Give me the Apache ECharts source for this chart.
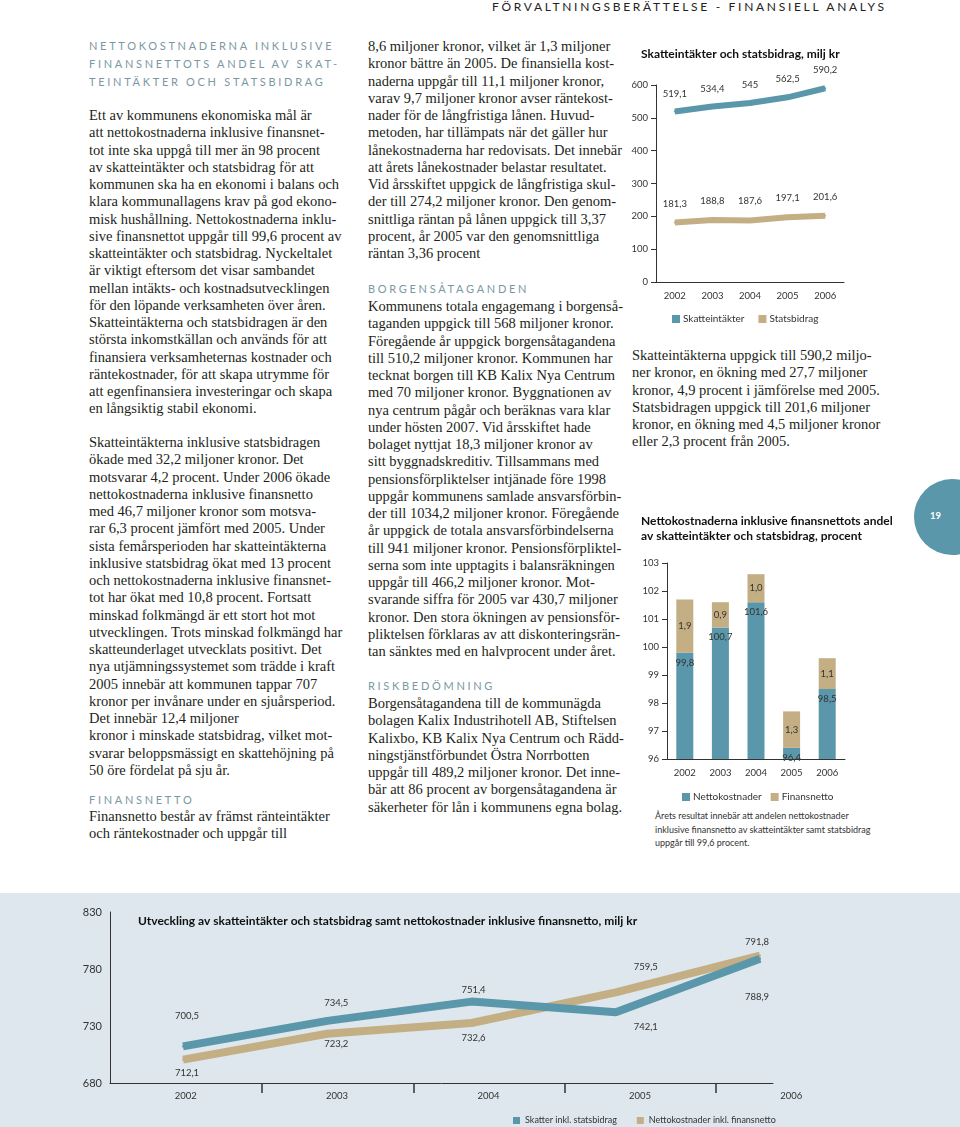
<!DOCTYPE html>
<html><head><meta charset="utf-8">
<script src="https://cdn.jsdelivr.net/npm/echarts@6/dist/echarts.min.js"></script>
<style>
html,body{margin:0;padding:0;background:#fff;}
body{width:960px;height:1127px;position:relative;overflow:hidden;}
.t{position:absolute;font-family:"Liberation Serif",serif;font-size:14.5px;line-height:17.25px;color:#231f20;white-space:pre;}
.h{position:absolute;font-family:Lato,sans-serif;font-size:11px;letter-spacing:2.7px;color:#7b98a2;line-height:18px;white-space:pre;}
.hdr{position:absolute;left:492px;top:0px;font-family:Lato,sans-serif;font-size:12px;letter-spacing:2.7px;color:#222;line-height:14px;white-space:pre;}
.note{position:absolute;left:655px;top:809px;font-family:Lato,sans-serif;font-size:9px;line-height:13.5px;color:#333;white-space:pre;}
.chart{position:absolute;}
#circle{position:absolute;left:914px;top:479px;width:76px;height:76px;border-radius:50%;background:#5a97aa;}
#pnum{position:absolute;left:930px;top:510px;font-family:Lato,sans-serif;font-weight:bold;font-size:9.5px;color:#fff;}
</style></head>
<body>
<div class="hdr">FÖRVALTNINGSBERÄTTELSE - FINANSIELL ANALYS</div>

<div class="h" style="left:89px;top:37px;">NETTOKOSTNADERNA INKLUSIVE
FINANSNETTOTS ANDEL AV SKAT-
TEINTÄKTER OCH STATSBIDRAG</div>

<div class="t" style="left:89px;top:107px;">Ett av kommunens ekonomiska mål är
att nettokostnaderna inklusive finansnet-
tot inte ska uppgå till mer än 98 procent
av skatteintäkter och statsbidrag för att
kommunen ska ha en ekonomi i balans och
klara kommunallagens krav på god ekono-
misk hushållning. Nettokostnaderna inklu-
sive finansnettot uppgår till 99,6 procent av
skatteintäkter och statsbidrag. Nyckeltalet
är viktigt eftersom det visar sambandet
mellan intäkts- och kostnadsutvecklingen
för den löpande verksamheten över åren.
Skatteintäkterna och statsbidragen är den
största inkomstkällan och används för att
finansiera verksamheternas kostnader och
räntekostnader, för att skapa utrymme för
att egenfinansiera investeringar och skapa
en långsiktig stabil ekonomi.</div>

<div class="t" style="left:89px;top:434px;">Skatteintäkterna inklusive statsbidragen
ökade med 32,2 miljoner kronor. Det
motsvarar 4,2 procent. Under 2006 ökade
nettokostnaderna inklusive finansnetto
med 46,7 miljoner kronor som motsva-
rar 6,3 procent jämfört med 2005. Under
sista femårsperioden har skatteintäkterna
inklusive statsbidrag ökat med 13 procent
och nettokostnaderna inklusive finansnet-
tot har ökat med 10,8 procent. Fortsatt
minskad folkmängd är ett stort hot mot
utvecklingen. Trots minskad folkmängd har
skatteunderlaget utvecklats positivt. Det
nya utjämningssystemet som trädde i kraft
2005 innebär att kommunen tappar 707
kronor per invånare under en sjuårsperiod.
Det innebär 12,4 miljoner
kronor i minskade statsbidrag, vilket mot-
svarar beloppsmässigt en skattehöjning på
50 öre fördelat på sju år.</div>

<div class="h" style="left:89px;top:791px;">FINANSNETTO</div>
<div class="t" style="left:89px;top:808px;">Finansnetto består av främst ränteintäkter
och räntekostnader och uppgår till</div>

<div class="t" style="left:368px;top:38px;">8,6 miljoner kronor, vilket är 1,3 miljoner
kronor bättre än 2005. De finansiella kost-
naderna uppgår till 11,1 miljoner kronor,
varav 9,7 miljoner kronor avser räntekost-
nader för de långfristiga lånen. Huvud-
metoden, har tillämpats när det gäller hur
lånekostnaderna har redovisats. Det innebär
att årets lånekostnader belastar resultatet.
Vid årsskiftet uppgick de långfristiga skul-
der till 274,2 miljoner kronor. Den genom-
snittliga räntan på lånen uppgick till 3,37
procent, år 2005 var den genomsnittliga
räntan 3,36 procent</div>

<div class="h" style="left:368px;top:280px;">BORGENSÅTAGANDEN</div>
<div class="t" style="left:368px;top:298px;">Kommunens totala engagemang i borgenså-
taganden uppgick till 568 miljoner kronor.
Föregående år uppgick borgensåtagandena
till 510,2 miljoner kronor. Kommunen har
tecknat borgen till KB Kalix Nya Centrum
med 70 miljoner kronor. Byggnationen av
nya centrum pågår och beräknas vara klar
under hösten 2007. Vid årsskiftet hade
bolaget nyttjat 18,3 miljoner kronor av
sitt byggnadskreditiv. Tillsammans med
pensionsförpliktelser intjänade före 1998
uppgår kommunens samlade ansvarsförbin-
der till 1034,2 miljoner kronor. Föregående
år uppgick de totala ansvarsförbindelserna
till 941 miljoner kronor. Pensionsförpliktel-
serna som inte upptagits i balansräkningen
uppgår till 466,2 miljoner kronor. Mot-
svarande siffra för 2005 var 430,7 miljoner
kronor. Den stora ökningen av pensionsför-
pliktelsen förklaras av att diskonteringsrän-
tan sänktes med en halvprocent under året.</div>

<div class="h" style="left:368px;top:677px;">RISKBEDÖMNING</div>
<div class="t" style="left:368px;top:695px;">Borgensåtagandena till de kommunägda
bolagen Kalix Industrihotell AB, Stiftelsen
Kalixbo, KB Kalix Nya Centrum och Rädd-
ningstjänstförbundet Östra Norrbotten
uppgår till 489,2 miljoner kronor. Det inne-
bär att 86 procent av borgensåtagandena är
säkerheter för lån i kommunens egna bolag.</div>

<div class="t" style="left:632px;top:347px;">Skatteintäkterna uppgick till 590,2 miljo-
ner kronor, en ökning med 27,7 miljoner
kronor, 4,9 procent i jämförelse med 2005.
Statsbidragen uppgick till 201,6 miljoner
kronor, en ökning med 4,5 miljoner kronor
eller 2,3 procent från 2005.</div>

<div class="note">Årets resultat innebär att andelen nettokostnader
inklusive finansnetto av skatteintäkter samt statsbidrag
uppgår till 99,6 procent.</div>

<div id="circle"></div>
<div id="pnum">19</div>

<div id="c1" class="chart" style="left:620px;top:30px;width:300px;height:300px;"></div>
<div id="c2" class="chart" style="left:620px;top:500px;width:300px;height:310px;"></div>
<div id="c3" class="chart" style="left:0px;top:893px;width:960px;height:234px;background:#dde7ed;"></div>

<script>
// ---------- data ----------
const years = ['2002', '2003', '2004', '2005', '2006'];

// Chart 1: Skatteintäkter och statsbidrag, milj kr
const skatteintakter = [519.1, 534.4, 545, 562.5, 590.2];
const statsbidrag = [181.3, 188.8, 187.6, 197.1, 201.6];
const axis1Range = [0, 600, 100];

// Chart 2: Nettokostnadernas andel, procent
const nettokostnaderPct = [99.8, 100.7, 101.6, 96.4, 98.5];
const finansnettoPct = [1.9, 0.9, 1.0, 1.3, 1.1];
const totalPct = [101.7, 101.6, 102.6, 97.7, 99.6];
const axis2Range = [96, 103, 1];

// Chart 3: Utveckling, milj kr
const skatterInklStatsbidrag = [700.5, 723.2, 732.6, 759.5, 791.8];
const nettoInklFinansnetto = [712.1, 734.5, 751.4, 742.1, 788.9];
const axis3Range = [680, 830, 50];

// ---------- styles ----------
const TEAL = '#5a97aa';
const TAN = '#c4ae84';
const INK = '#333';
const SANS = 'Lato';
const fmtComma = v => String(v).replace('.', ',');
const fmt1 = v => v.toFixed(1).replace('.', ',');

// Chart 1
const c1 = echarts.init(document.getElementById('c1'));
c1.setOption({
  animation: false,
  title: { text: 'Skatteintäkter och statsbidrag, milj kr', left: 16, top: 13,
    textStyle: { fontFamily: SANS, fontWeight: 'bold', fontSize: 12, color: '#111' } },
  grid: { left: 36, top: 55, width: 188, height: 197 },
  legend: { left: 47, top: 279, itemWidth: 8, itemHeight: 8, itemGap: 14, icon: 'rect',
    textStyle: { fontFamily: SANS, fontSize: 10, color: INK, padding: [0, 0, 0, -2] },
    data: ['Skatteintäkter', 'Statsbidrag'] },
  xAxis: { type: 'category', data: years, boundaryGap: true,
    axisLine: { lineStyle: { color: INK } },
    axisTick: { length: 5, lineStyle: { color: INK } },
    axisLabel: { fontFamily: SANS, fontSize: 9.5, color: INK, margin: 9 } },
  yAxis: { type: 'value', min: axis1Range[0], max: axis1Range[1], interval: axis1Range[2],
    axisLine: { show: true, lineStyle: { color: INK } },
    axisTick: { show: true, length: 5, lineStyle: { color: INK } },
    splitLine: { show: false },
    axisLabel: { fontFamily: SANS, fontSize: 9.5, color: INK, margin: 8 } },
  series: [
    { name: 'Skatteintäkter', type: 'line', data: skatteintakter, color: TEAL,
      symbol: 'circle', symbolSize: 2, lineStyle: { width: 6, color: TEAL },
      label: { show: true, position: 'top', distance: 12, fontFamily: SANS, fontSize: 9.5, color: INK,
        formatter: p => fmtComma(p.value) },
      emphasis: { disabled: true } },
    { name: 'Statsbidrag', type: 'line', data: statsbidrag, color: TAN,
      symbol: 'circle', symbolSize: 2, lineStyle: { width: 6, color: TAN },
      label: { show: true, position: 'top', distance: 13, fontFamily: SANS, fontSize: 9.5, color: INK,
        formatter: p => fmtComma(p.value) },
      emphasis: { disabled: true } }
  ]
});

// Chart 2
const c2 = echarts.init(document.getElementById('c2'));
c2.setOption({
  animation: false,
  title: { text: 'Nettokostnaderna inklusive finansnettots andel\nav skatteintäkter och statsbidrag, procent',
    left: 16, top: 9,
    textStyle: { fontFamily: SANS, fontWeight: 'bold', fontSize: 12, lineHeight: 15, color: '#111' } },
  grid: { left: 47, top: 63, width: 178, height: 196 },
  legend: { left: 57, top: 287, itemWidth: 8, itemHeight: 8, itemGap: 9, icon: 'rect',
    textStyle: { fontFamily: SANS, fontSize: 10, color: INK, padding: [0, 0, 0, -2] },
    data: ['Nettokostnader', 'Finansnetto'] },
  xAxis: { type: 'category', data: years, boundaryGap: true,
    axisLine: { lineStyle: { color: INK } },
    axisTick: { length: 5, lineStyle: { color: INK } },
    axisLabel: { fontFamily: SANS, fontSize: 9.5, color: INK, margin: 9 } },
  yAxis: { type: 'value', min: axis2Range[0], max: axis2Range[1], interval: axis2Range[2],
    axisLine: { show: true, lineStyle: { color: INK } },
    axisTick: { show: true, length: 5, lineStyle: { color: INK } },
    splitLine: { show: false },
    axisLabel: { fontFamily: SANS, fontSize: 9.5, color: INK, margin: 8 } },
  series: [
    { name: 'Nettokostnader', type: 'bar', stack: 'andel', data: nettokostnaderPct, barWidth: 17,
      itemStyle: { color: TEAL },
      label: { show: true, position: 'insideTop', distance: 5, fontFamily: SANS, fontSize: 9.5, color: INK,
        formatter: p => fmt1(p.value) },
      emphasis: { disabled: true } },
    { name: 'Finansnetto', type: 'bar', stack: 'andel', data: finansnettoPct, barWidth: 17,
      itemStyle: { color: TAN },
      label: { show: true, position: 'inside', fontFamily: SANS, fontSize: 9.5, color: INK,
        formatter: p => fmt1(p.value) },
      emphasis: { disabled: true } },
    { name: 'Totalt', type: 'line', data: totalPct, symbol: 'none', showSymbol: true, symbolSize: 0.1,
      lineStyle: { opacity: 0 }, itemStyle: { opacity: 0 },
      label: { show: true, position: 'top', distance: 5, fontFamily: SANS, fontSize: 9.5, color: INK,
        formatter: p => fmt1(p.value) },
      emphasis: { disabled: true } }
  ]
});

// Chart 3
const tealLabelOffsets = [[4, 27], [9, -18], [2, -12], [30, 15], [-3, 38]];
const tanLabelOffsets = [[4, -44], [9, 10], [2, 15], [30, -25], [-3, -14]];
const yr = years.map(Number);
const c3 = echarts.init(document.getElementById('c3'));
const yBase = { type: 'value', min: axis3Range[0], max: axis3Range[1], interval: axis3Range[2] };
c3.setOption({
  animation: false,
  title: { text: 'Utveckling av skatteintäkter och statsbidrag samt nettokostnader inklusive finansnetto, milj kr',
    left: 133, top: 17,
    textStyle: { fontFamily: SANS, fontWeight: 'bold', fontSize: 12, color: '#111' } },
  grid: [
    { left: 110, top: 19, width: 757, height: 171 },   // year labels
    { left: 110, top: 19, width: 663, height: 171 },   // lines + axes
    { left: 262, top: 19, width: 454, height: 171 }    // year-boundary ticks
  ],
  legend: { left: 508, top: 218, itemWidth: 7, itemHeight: 7, itemGap: 20, icon: 'rect',
    textStyle: { fontFamily: SANS, fontSize: 9, color: INK },
    data: [ { name: 'Skatter inkl. statsbidrag', itemStyle: { color: TEAL } },
            { name: 'Nettokostnader inkl. finansnetto', itemStyle: { color: TAN } } ] },
  xAxis: [
    { type: 'category', gridIndex: 0, data: years, boundaryGap: true,
      axisLine: { show: false }, axisTick: { show: false }, splitLine: { show: false },
      axisLabel: { fontFamily: SANS, fontSize: 9.5, color: INK, margin: 8, interval: 0 } },
    { type: 'value', gridIndex: 1, min: 2001.494, max: 2006.09,
      axisLine: { show: true, onZero: false, lineStyle: { color: INK } },
      axisTick: { show: false }, axisLabel: { show: false }, splitLine: { show: false } },
    { type: 'category', gridIndex: 2, data: years.slice(1), boundaryGap: false,
      axisLine: { show: false, onZero: false },
      axisLabel: { show: true, interval: 0, color: 'rgba(0,0,0,0)', fontSize: 9 },
      splitLine: { show: false },
      axisTick: { show: true, interval: 0, length: 10, lineStyle: { color: INK, width: 1.5 } } }
  ],
  yAxis: [
    Object.assign({ gridIndex: 0, show: false }, yBase),
    Object.assign({ gridIndex: 1,
      axisLine: { show: true, lineStyle: { color: INK } },
      axisTick: { show: false }, splitLine: { show: false },
      axisLabel: { fontFamily: SANS, fontSize: 11, color: INK, margin: 8 } }, yBase),
    Object.assign({ gridIndex: 2, show: false }, yBase)
  ],
  series: [
    { name: 'Skatter inkl. statsbidrag', type: 'line', xAxisIndex: 1, yAxisIndex: 1,
      data: skatterInklStatsbidrag.map((v, i) => ({ value: [yr[i], v], label: { offset: tanLabelOffsets[i] } })),
      symbol: 'circle', symbolSize: 2, itemStyle: { color: TAN }, lineStyle: { width: 8, color: TAN },
      label: { show: true, position: 'inside', fontFamily: SANS, fontSize: 9.5, color: INK,
        formatter: p => fmt1(p.value[1]) },
      emphasis: { disabled: true } },
    { name: 'Nettokostnader inkl. finansnetto', type: 'line', xAxisIndex: 1, yAxisIndex: 1,
      data: nettoInklFinansnetto.map((v, i) => ({ value: [yr[i], v], label: { offset: tealLabelOffsets[i] } })),
      symbol: 'circle', symbolSize: 2, itemStyle: { color: TEAL }, lineStyle: { width: 8, color: TEAL },
      label: { show: true, position: 'inside', fontFamily: SANS, fontSize: 9.5, color: INK,
        formatter: p => fmt1(p.value[1]) },
      emphasis: { disabled: true } },
    // invisible helper so the boundary-tick axis is bound to data
    { name: 'axisHelper', type: 'line', xAxisIndex: 2, yAxisIndex: 2, silent: true,
      data: nettoInklFinansnetto.slice(1), symbol: 'none', lineStyle: { opacity: 0 },
      label: { show: false }, emphasis: { disabled: true } }
  ]
});
</script>
</body></html>
